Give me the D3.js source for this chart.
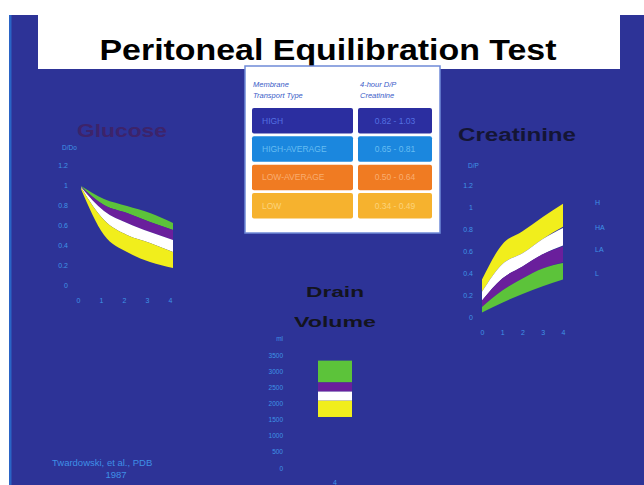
<!DOCTYPE html>
<html>
<head>
<meta charset="utf-8">
<script src="https://cdn.jsdelivr.net/npm/d3@7"></script>
<style>
  html, body { margin: 0; padding: 0; background: #ffffff; }
  svg { display: block; }
  text { font-family: "Liberation Sans", Arial, sans-serif; }
</style>
</head>
<body>
<svg id="chart" width="644" height="485"></svg>
<script>
// ---- data ----------------------------------------------------------------
const hours = [0, 1, 2, 3, 4];
const transportTypes = ["HIGH", "HIGH-AVERAGE", "LOW-AVERAGE", "LOW"];
const creatinineRanges = ["0.82 - 1.03", "0.65 - 0.81", "0.50 - 0.64", "0.34 - 0.49"];

// D/D0 glucose, [low, high] edge of each band per hour
const glucoseHigh    = [[0.96, 0.975], [0.50, 0.65], [0.33, 0.50], [0.23, 0.42], [0.17, 0.33]];
const glucoseHighAvg = [[0.975, 0.98], [0.65, 0.74], [0.50, 0.62], [0.42, 0.53], [0.33, 0.45]];
const glucoseLowAvg  = [[0.98, 0.985], [0.74, 0.80], [0.62, 0.72], [0.53, 0.63], [0.45, 0.55]];
const glucoseLow     = [[0.985, 0.99], [0.80, 0.86], [0.72, 0.79], [0.63, 0.72], [0.55, 0.62]];

// D/P creatinine, [low, high] edge of each band per hour
const creatinineHigh    = [[0.23, 0.34], [0.48, 0.66], [0.58, 0.78], [0.71, 0.91], [0.82, 1.03]];
const creatinineHighAvg = [[0.15, 0.23], [0.35, 0.48], [0.46, 0.58], [0.57, 0.71], [0.65, 0.81]];
const creatinineLowAvg  = [[0.09, 0.15], [0.24, 0.35], [0.35, 0.46], [0.44, 0.57], [0.50, 0.64]];
const creatinineLow     = [[0.04, 0.09], [0.13, 0.24], [0.21, 0.35], [0.28, 0.44], [0.34, 0.49]];

// drain volume (ml) at 4 hours, [low, high]
const drainHigh    = [1580, 2084];
const drainHighAvg = [2085, 2367];
const drainLowAvg  = [2368, 2650];
const drainLow     = [2651, 3326];

const ratioTicks = [0, 0.2, 0.4, 0.6, 0.8, 1, 1.2];
const volumeTicks = [0, 500, 1000, 1500, 2000, 2500, 3000, 3500];
const creatinineSideLabels = ["H", "HA", "LA", "L"];
const creatinineSideAt = [1.04, 0.81, 0.61, 0.40];

// ---- styles --------------------------------------------------------------
const BG = "#2d3397";
const TICK = "#3f93e6";
const bandColors = { high: "#f1ee1c", highAvg: "#ffffff", lowAvg: "#6a1f9c", low: "#5cc33a" };
const rowFill = ["#2b2ea0", "#1b87de", "#f07b22", "#f6b22e"];
const rowText = ["#5370e2", "#66bdf2", "#f9ad70", "#fcd27a"];

const svg = d3.select("#chart");

// slide background
svg.append("rect").attr("x", 0).attr("y", 0).attr("width", 644).attr("height", 485).attr("fill", "#ffffff");
svg.append("rect").attr("x", 9).attr("y", 15).attr("width", 635).attr("height", 470).attr("fill", BG);
svg.append("rect").attr("x", 9).attr("y", 15).attr("width", 2.5).attr("height", 470).attr("fill", "#2a64c6");
svg.append("rect").attr("x", 38).attr("y", 0).attr("width", 582).attr("height", 69).attr("fill", "#ffffff");

svg.append("text")
  .attr("x", 328).attr("y", 60)
  .attr("text-anchor", "middle")
  .attr("font-family", "'DejaVu Sans', Verdana, sans-serif")
  .attr("font-size", 29).attr("font-weight", "bold")
  .attr("textLength", 457).attr("lengthAdjust", "spacingAndGlyphs")
  .attr("fill", "#000")
  .text("Peritoneal Equilibration Test");

// ---- classification table -----------------------------------------------
const panel = svg.append("g");
panel.append("rect").attr("x", 245).attr("y", 66).attr("width", 195).attr("height", 167)
  .attr("fill", "#ffffff").attr("stroke", "#6f8ad8").attr("stroke-width", 1.5);

const headStyle = sel => sel.attr("font-size", 7.5).attr("font-style", "italic").attr("fill", "#3a5cc8");
headStyle(panel.append("text").attr("x", 253).attr("y", 87).text("Membrane"));
headStyle(panel.append("text").attr("x", 253).attr("y", 98).text("Transport Type"));
headStyle(panel.append("text").attr("x", 360).attr("y", 87).text("4-hour D/P"));
headStyle(panel.append("text").attr("x", 360).attr("y", 98).text("Creatinine"));

const rowY = d3.scaleBand().domain(transportTypes).range([106.5, 220]).paddingInner(0.1).paddingOuter(0.05);
const rows = panel.selectAll("g.row").data(transportTypes).join("g").attr("class", "row");
rows.append("rect").attr("x", 252).attr("width", 101)
  .attr("y", d => rowY(d)).attr("height", rowY.bandwidth()).attr("rx", 2)
  .attr("fill", (d, i) => rowFill[i]);
rows.append("rect").attr("x", 358).attr("width", 74)
  .attr("y", d => rowY(d)).attr("height", rowY.bandwidth()).attr("rx", 2)
  .attr("fill", (d, i) => rowFill[i]);
rows.append("text").attr("x", 262)
  .attr("y", d => rowY(d) + rowY.bandwidth() / 2 + 3)
  .attr("font-size", 8.5).attr("fill", (d, i) => rowText[i])
  .text(d => d);
rows.append("text").attr("x", 395)
  .attr("y", d => rowY(d) + rowY.bandwidth() / 2 + 3)
  .attr("text-anchor", "middle")
  .attr("font-size", 8.5).attr("fill", (d, i) => rowText[i])
  .text((d, i) => creatinineRanges[i]);

// ---- shared helpers -------------------------------------------------------
function styleAxis(g, size) {
  g.select(".domain").remove();
  g.selectAll(".tick line").remove();
  g.selectAll("text").attr("fill", TICK).attr("font-size", size)
    .attr("font-family", "'Liberation Sans', Arial, sans-serif");
}
const fmtRatio = d => d === 0 ? "0" : d === 1 ? "1" : d3.format(".1f")(d);

function drawBands(g, bands, x, y) {
  const area = d3.area()
    .x((d, i) => x(hours[i]))
    .y0(d => y(d[0]))
    .y1(d => y(d[1]))
    .curve(d3.curveMonotoneX);
  g.selectAll("path.band").data(bands).join("path").attr("class", "band")
    .attr("d", d => area(d.values))
    .attr("fill", d => d.color);
}

function chartTitle(g, x, y, label, size, len, color) {
  g.append("text").attr("x", x).attr("y", y).attr("text-anchor", "middle")
    .attr("font-family", "'DejaVu Sans', Verdana, sans-serif")
    .attr("font-size", size).attr("font-weight", "bold")
    .attr("textLength", len).attr("lengthAdjust", "spacingAndGlyphs")
    .attr("fill", color).attr("opacity", 0.9).text(label);
}

// ---- Glucose ---------------------------------------------------------------
const xG = d3.scaleLinear().domain([0, 4]).range([81, 173]);
const yG = d3.scaleLinear().domain([0, 1.2]).range([285, 165]);
const gG = svg.append("g");
chartTitle(gG, 122, 137, "Glucose", 19, 90, "#3f2266");
gG.append("text").attr("x", 62).attr("y", 150).attr("font-size", 6.5).attr("fill", TICK).text("D/Do");
gG.append("g").attr("transform", "translate(71,0)")
  .call(d3.axisLeft(yG).tickValues(ratioTicks).tickFormat(fmtRatio).tickSize(0).tickPadding(3))
  .call(g => styleAxis(g, 7));
gG.append("g").attr("transform", "translate(-3,295)")
  .call(d3.axisBottom(xG).tickValues(hours).tickFormat(d3.format("d")).tickSize(0).tickPadding(3))
  .call(g => styleAxis(g, 7));
drawBands(gG, [
  { values: glucoseLow, color: bandColors.low },
  { values: glucoseLowAvg, color: bandColors.lowAvg },
  { values: glucoseHighAvg, color: bandColors.highAvg },
  { values: glucoseHigh, color: bandColors.high }
], xG, yG);

// ---- Creatinine -----------------------------------------------------------
const xC = d3.scaleLinear().domain([0, 4]).range([482, 563]);
const yC = d3.scaleLinear().domain([0, 1.2]).range([317, 185]);
const gC = svg.append("g");
chartTitle(gC, 517, 141, "Creatinine", 18, 118, "#12122a");
gC.append("text").attr("x", 468).attr("y", 168).attr("font-size", 6.5).attr("fill", TICK).text("D/P");
gC.append("g").attr("transform", "translate(476,0)")
  .call(d3.axisLeft(yC).tickValues(ratioTicks).tickFormat(fmtRatio).tickSize(0).tickPadding(3))
  .call(g => styleAxis(g, 7));
gC.append("g").attr("transform", "translate(0,327)")
  .call(d3.axisBottom(xC).tickValues(hours).tickFormat(d3.format("d")).tickSize(0).tickPadding(3))
  .call(g => styleAxis(g, 7));
drawBands(gC, [
  { values: creatinineHigh, color: bandColors.high },
  { values: creatinineHighAvg, color: bandColors.highAvg },
  { values: creatinineLowAvg, color: bandColors.lowAvg },
  { values: creatinineLow, color: bandColors.low }
], xC, yC);
gC.selectAll("text.side").data(creatinineSideLabels).join("text").attr("class", "side")
  .attr("x", 595).attr("y", (d, i) => yC(creatinineSideAt[i]) + 2.5)
  .attr("font-size", 7).attr("fill", TICK).text(d => d);

// ---- Drain volume ---------------------------------------------------------
const xV = d3.scaleBand().domain(["4"]).range([318, 352]);
const yV = d3.scaleLinear().domain([0, 3500]).range([468, 355]);
const gV = svg.append("g");
chartTitle(gV, 335, 297, "Drain", 15, 58, "#111");
chartTitle(gV, 335, 327, "Volume", 15, 82, "#111");
gV.append("text").attr("x", 283).attr("y", 341).attr("text-anchor", "end")
  .attr("font-size", 6.5).attr("fill", TICK).text("ml");
gV.append("g").attr("transform", "translate(286,0)")
  .call(d3.axisLeft(yV).tickValues(volumeTicks).tickFormat(d3.format("d")).tickSize(0).tickPadding(3))
  .call(g => styleAxis(g, 6.5));
gV.append("g").attr("transform", "translate(0,477)")
  .call(d3.axisBottom(xV).tickSize(0).tickPadding(3))
  .call(g => styleAxis(g, 7));
const drainBands = [
  { r: drainLow, color: bandColors.low },
  { r: drainLowAvg, color: bandColors.lowAvg },
  { r: drainHighAvg, color: bandColors.highAvg },
  { r: drainHigh, color: bandColors.high }
];
gV.selectAll("rect.vol").data(drainBands).join("rect").attr("class", "vol")
  .attr("x", xV("4")).attr("width", xV.bandwidth())
  .attr("y", d => yV(d.r[1])).attr("height", d => yV(d.r[0]) - yV(d.r[1]))
  .attr("fill", d => d.color);

// ---- source ---------------------------------------------------------------
svg.append("text").attr("x", 52).attr("y", 466).attr("font-size", 9.5).attr("fill", "#3f8fe6")
  .text("Twardowski, et al., PDB");
svg.append("text").attr("x", 116).attr("y", 478).attr("text-anchor", "middle")
  .attr("font-size", 9.5).attr("fill", "#3f8fe6").text("1987");
</script>
</body>
</html>
